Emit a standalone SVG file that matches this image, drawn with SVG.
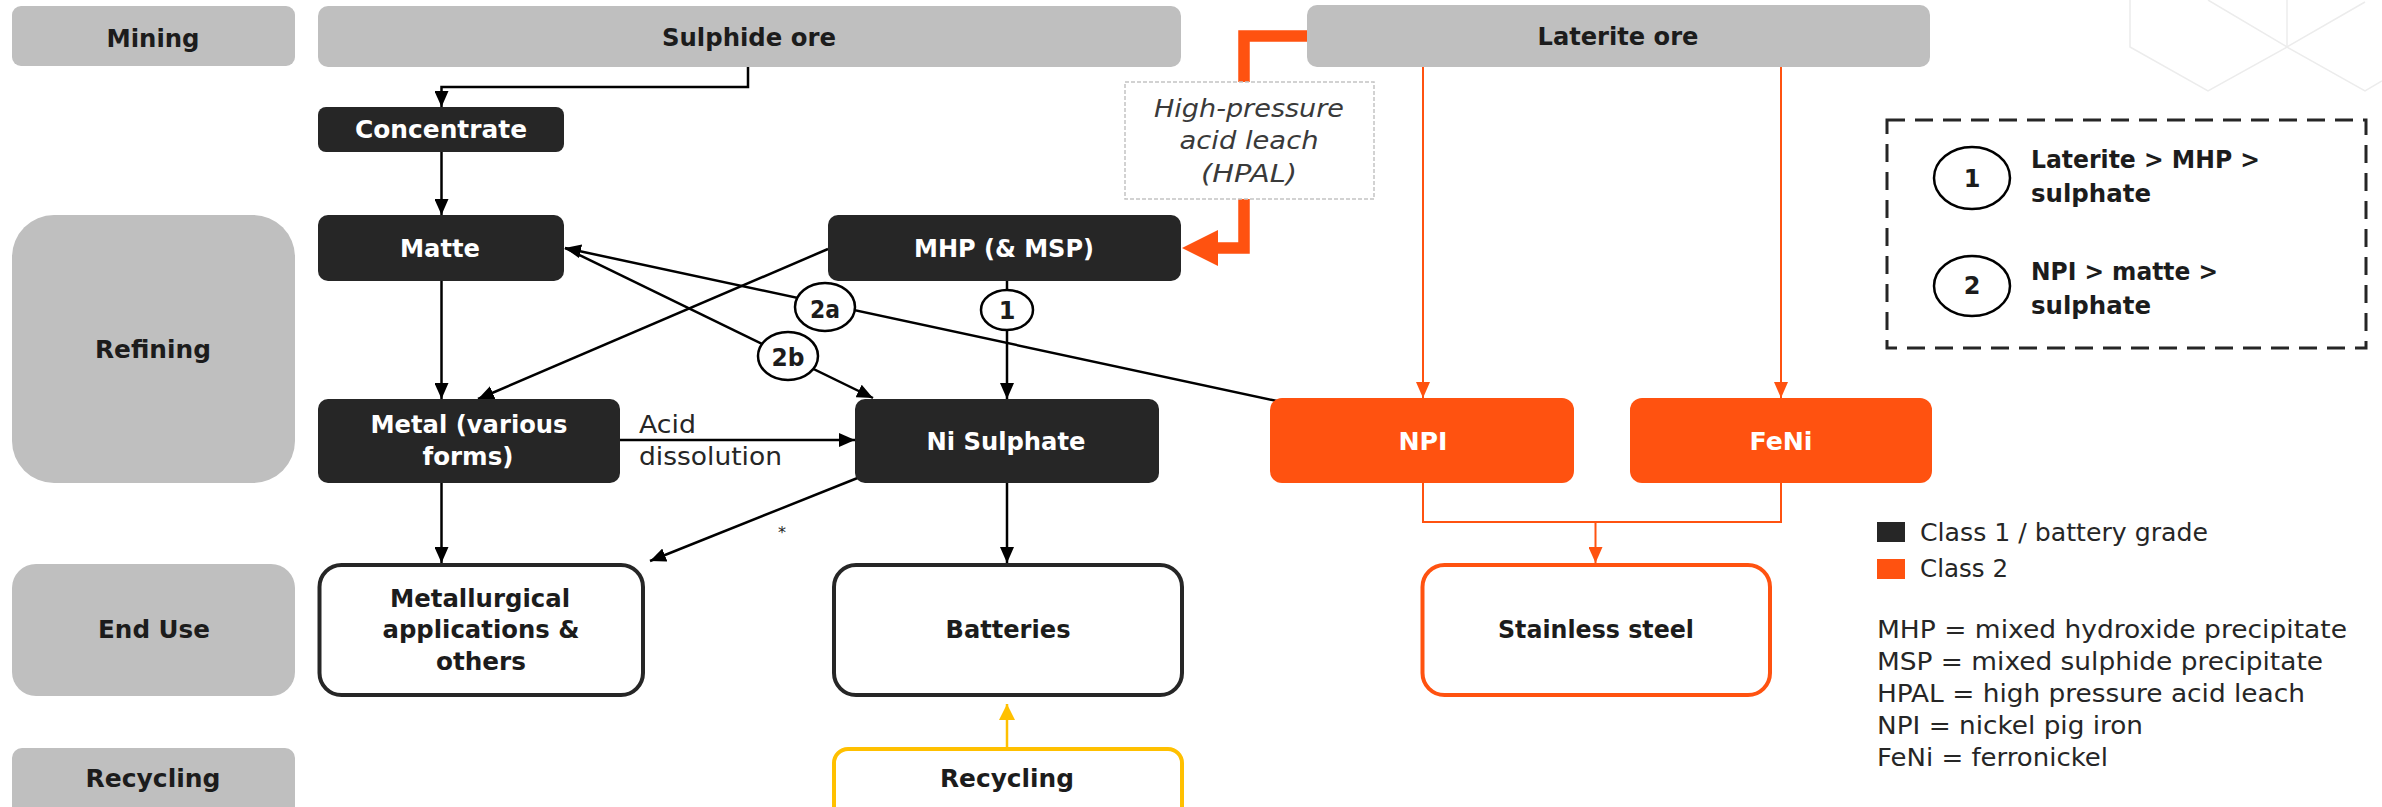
<svg xmlns="http://www.w3.org/2000/svg" width="2382" height="807" viewBox="0 0 2382 807">
  <defs>
    <style>
      text { font-family: "DejaVu Sans", "Liberation Sans", sans-serif; font-size: 24px; }
      .b { font-weight: bold; fill: #1c1c1c; text-anchor: middle; }
      .w { fill: #ffffff; }
      .r { font-weight: normal; fill: #262626; }
      .it { font-style: italic; font-weight: normal; fill: #3a3a3a; text-anchor: middle; }
      .stage { fill: #bfbfbf; }
      .grey { fill: #bfbfbf; }
      .dark { fill: #262626; }
      .orange { fill: #ff5210; }
      .out { fill: #ffffff; stroke: #262626; stroke-width: 4; }
      .outo { fill: #ffffff; stroke: #ff5210; stroke-width: 4; }
      .outy { fill: #ffffff; stroke: #ffc000; stroke-width: 4; }
      .ln { fill: none; stroke: #000000; stroke-width: 2.5; }
      .lno { fill: none; stroke: #ff5210; stroke-width: 2; }
      .lny { fill: none; stroke: #ffc000; stroke-width: 2.5; }
      .tag { fill: #ffffff; stroke: #000000; stroke-width: 2.5; }
      .hex { fill: none; stroke: #ececec; stroke-width: 1.5; }
    </style>
    <marker id="ab" viewBox="0 0 16 14" refX="16" refY="7" markerWidth="16" markerHeight="14" markerUnits="userSpaceOnUse" orient="auto">
      <path d="M0,0 L16,7 L0,14 Z" fill="#000000"/>
    </marker>
    <marker id="ao" viewBox="0 0 16 14" refX="16" refY="7" markerWidth="16" markerHeight="14" markerUnits="userSpaceOnUse" orient="auto">
      <path d="M0,0 L16,7 L0,14 Z" fill="#ff5210"/>
    </marker>
    <marker id="ay" viewBox="0 0 16 16" refX="16" refY="8" markerWidth="16" markerHeight="16" markerUnits="userSpaceOnUse" orient="auto">
      <path d="M0,0 L16,8 L0,16 Z" fill="#ffc000"/>
    </marker>
  </defs>

  <rect x="0" y="0" width="2382" height="807" fill="#ffffff"/>

  <!-- watermark -->
  <g id="watermark">
    <polyline class="hex" points="2130,0 2130,47 2208,91 2287,47 2365,91 2382,81"/>
    <polyline class="hex" points="2208,0 2287,47 2365,2"/>
    <line class="hex" x1="2287" y1="0" x2="2287" y2="47"/>
  </g>

  <!-- stage labels -->
  <g id="stage-mining"><rect class="stage" x="12" y="6" width="283" height="60" rx="9"/><text class="b" x="153" y="47" textLength="93" lengthAdjust="spacingAndGlyphs">Mining</text></g>
  <g id="stage-refining"><rect class="stage" x="12" y="215" width="283" height="268" rx="42"/><text class="b" x="153" y="358" textLength="116" lengthAdjust="spacingAndGlyphs">Refining</text></g>
  <g id="stage-enduse"><rect class="stage" x="12" y="564" width="283" height="132" rx="24"/><text class="b" x="154" y="638" textLength="112" lengthAdjust="spacingAndGlyphs">End Use</text></g>
  <g id="stage-recycling"><rect class="stage" x="12" y="748" width="283" height="80" rx="10"/><text class="b" x="153" y="787" textLength="135" lengthAdjust="spacingAndGlyphs">Recycling</text></g>

  <!-- connectors -->
  <g id="connectors">
    <path class="lno" d="M1423,67 V398" marker-end="url(#ao)"/>
    <path class="lno" d="M1781,67 V398" marker-end="url(#ao)"/>
    <path class="lno" d="M1423,483 V522 H1781 V483"/>
    <path class="lno" d="M1595.5,522 V563" marker-end="url(#ao)"/>
    <path d="M1307,36 H1244 V248 H1216" fill="none" stroke="#ff5210" stroke-width="11.5"/>
    <polygon points="1218,230 1182,248 1218,266" fill="#ff5210"/>
    <path class="ln" d="M748,67 V87 H441.5 V107" marker-end="url(#ab)"/>
    <path class="ln" d="M441.5,152 V215" marker-end="url(#ab)"/>
    <path class="ln" d="M441.5,281 V399" marker-end="url(#ab)"/>
    <path class="ln" d="M828,249 L478,399" marker-end="url(#ab)"/>
    <path class="ln" d="M1277,401 L565,248" marker-end="url(#ab)"/>
    <path class="ln" d="M565,248 L873,398" marker-end="url(#ab)"/>
    <path class="ln" d="M1007,281 V399" marker-end="url(#ab)"/>
    <path class="ln" d="M620,440 H855" stroke-width="3.5" marker-end="url(#ab)"/>
    <path class="ln" d="M441.5,483 V563" marker-end="url(#ab)"/>
    <path class="ln" d="M860,477 L650,561" marker-end="url(#ab)"/>
    <path class="ln" d="M1007,483 V563" marker-end="url(#ab)"/>
    <path class="lny" d="M1007,747 V704" marker-end="url(#ay)"/>
    <text class="r" x="639" y="433" textLength="57" lengthAdjust="spacingAndGlyphs">Acid</text>
    <text class="r" x="639" y="465" textLength="143" lengthAdjust="spacingAndGlyphs">dissolution</text>
    <text class="r" x="782" y="538" font-size="16" text-anchor="middle" style="font-size:16px">*</text>
    <g id="tag-2a"><ellipse class="tag" cx="825" cy="307" rx="30" ry="24"/><text class="b" x="825" y="318" textLength="30" lengthAdjust="spacingAndGlyphs">2a</text></g>
    <g id="tag-2b"><ellipse class="tag" cx="788" cy="356" rx="30" ry="24"/><text class="b" x="788" y="366" textLength="33" lengthAdjust="spacingAndGlyphs">2b</text></g>
    <g id="tag-1"><ellipse class="tag" cx="1007" cy="310" rx="26" ry="20"/><text class="b" x="1007" y="319">1</text></g>
  </g>

  <!-- ore nodes -->
  <g id="sulphide-ore"><rect class="grey" x="318" y="6" width="863" height="61" rx="10"/><text class="b" x="749" y="46" textLength="174" lengthAdjust="spacingAndGlyphs">Sulphide ore</text></g>
  <g id="laterite-ore"><rect class="grey" x="1307" y="5" width="623" height="62" rx="10"/><text class="b" x="1618" y="45" textLength="161" lengthAdjust="spacingAndGlyphs">Laterite ore</text></g>

  <g id="hpal">
    <rect x="1125" y="82" width="249" height="117" fill="#ffffff" stroke="#c4c4c4" stroke-width="1.5" stroke-dasharray="4 2"/>
    <text class="it" x="1249" y="117" textLength="190" lengthAdjust="spacingAndGlyphs">High-pressure</text>
    <text class="it" x="1249" y="149" textLength="139" lengthAdjust="spacingAndGlyphs">acid leach</text>
    <text class="it" x="1249" y="182" textLength="96" lengthAdjust="spacingAndGlyphs">(HPAL)</text>
  </g>

  <!-- class 1 nodes -->
  <g id="concentrate"><rect class="dark" x="318" y="107" width="246" height="45" rx="8"/><text class="b w" x="441" y="138" textLength="172" lengthAdjust="spacingAndGlyphs">Concentrate</text></g>
  <g id="matte"><rect class="dark" x="318" y="215" width="246" height="66" rx="10"/><text class="b w" x="440" y="257" textLength="80" lengthAdjust="spacingAndGlyphs">Matte</text></g>
  <g id="mhp"><rect class="dark" x="828" y="215" width="353" height="66" rx="10"/><text class="b w" x="1004" y="257" textLength="180" lengthAdjust="spacingAndGlyphs">MHP (&amp; MSP)</text></g>
  <g id="metal"><rect class="dark" x="318" y="399" width="302" height="84" rx="10"/><text class="b w" x="469" y="433" textLength="197" lengthAdjust="spacingAndGlyphs">Metal (various</text><text class="b w" x="468" y="465" textLength="91" lengthAdjust="spacingAndGlyphs">forms)</text></g>
  <g id="ni-sulphate"><rect class="dark" x="855" y="399" width="304" height="84" rx="10"/><text class="b w" x="1006" y="450" textLength="159" lengthAdjust="spacingAndGlyphs">Ni Sulphate</text></g>

  <!-- class 2 nodes -->
  <g id="npi"><rect class="orange" x="1270" y="398" width="304" height="85" rx="12"/><text class="b w" x="1423" y="450" textLength="49" lengthAdjust="spacingAndGlyphs">NPI</text></g>
  <g id="feni"><rect class="orange" x="1630" y="398" width="302" height="85" rx="12"/><text class="b w" x="1781" y="450" textLength="63" lengthAdjust="spacingAndGlyphs">FeNi</text></g>

  <!-- end use nodes -->
  <g id="metallurgical"><rect class="out" x="319.5" y="565" width="323.5" height="130" rx="22"/>
    <text class="b" x="480" y="607" textLength="180" lengthAdjust="spacingAndGlyphs">Metallurgical</text>
    <text class="b" x="481" y="638" textLength="197" lengthAdjust="spacingAndGlyphs">applications &amp;</text>
    <text class="b" x="481" y="670" textLength="90" lengthAdjust="spacingAndGlyphs">others</text></g>
  <g id="batteries"><rect class="out" x="834" y="565" width="348" height="130" rx="22"/><text class="b" x="1008" y="638" textLength="125" lengthAdjust="spacingAndGlyphs">Batteries</text></g>
  <g id="stainless"><rect class="outo" x="1422.5" y="565" width="347.5" height="130" rx="22"/><text class="b" x="1596" y="638" textLength="196" lengthAdjust="spacingAndGlyphs">Stainless steel</text></g>
  <g id="recycling"><rect class="outy" x="834" y="749" width="348" height="80" rx="14"/><text class="b" x="1007" y="787" textLength="134" lengthAdjust="spacingAndGlyphs">Recycling</text></g>

  <!-- route legend -->
  <g id="route-legend">
    <rect x="1887" y="120" width="479" height="228" fill="none" stroke="#262626" stroke-width="3" stroke-dasharray="18 10"/>
    <ellipse class="tag" cx="1972" cy="178" rx="38" ry="31"/>
    <text class="b" x="1972" y="187">1</text>
    <text class="b" x="2031" y="168" text-anchor="start" style="text-anchor:start" textLength="229" lengthAdjust="spacingAndGlyphs">Laterite &gt; MHP &gt;</text>
    <text class="b" x="2031" y="202" style="text-anchor:start" textLength="120" lengthAdjust="spacingAndGlyphs">sulphate</text>
    <ellipse class="tag" cx="1972" cy="286" rx="38" ry="30"/>
    <text class="b" x="1972" y="294">2</text>
    <text class="b" x="2031" y="280" style="text-anchor:start" textLength="187" lengthAdjust="spacingAndGlyphs">NPI &gt; matte &gt;</text>
    <text class="b" x="2031" y="314" style="text-anchor:start" textLength="120" lengthAdjust="spacingAndGlyphs">sulphate</text>
  </g>

  <!-- class legend -->
  <g id="class-legend">
    <rect x="1877" y="522" width="28" height="20" fill="#262626"/>
    <text class="r" x="1920" y="541" textLength="288" lengthAdjust="spacingAndGlyphs">Class 1 / battery grade</text>
    <rect x="1877" y="559" width="28" height="20" fill="#ff5210"/>
    <text class="r" x="1920" y="577" textLength="88" lengthAdjust="spacingAndGlyphs">Class 2</text>
  </g>

  <!-- abbreviations -->
  <g id="abbreviations">
    <text class="r" x="1877" y="638" textLength="470" lengthAdjust="spacingAndGlyphs">MHP = mixed hydroxide precipitate</text>
    <text class="r" x="1877" y="670" textLength="446" lengthAdjust="spacingAndGlyphs">MSP = mixed sulphide precipitate</text>
    <text class="r" x="1877" y="702" textLength="428" lengthAdjust="spacingAndGlyphs">HPAL = high pressure acid leach</text>
    <text class="r" x="1877" y="734" textLength="266" lengthAdjust="spacingAndGlyphs">NPI = nickel pig iron</text>
    <text class="r" x="1877" y="766" textLength="231" lengthAdjust="spacingAndGlyphs">FeNi = ferronickel</text>
  </g>
</svg>
